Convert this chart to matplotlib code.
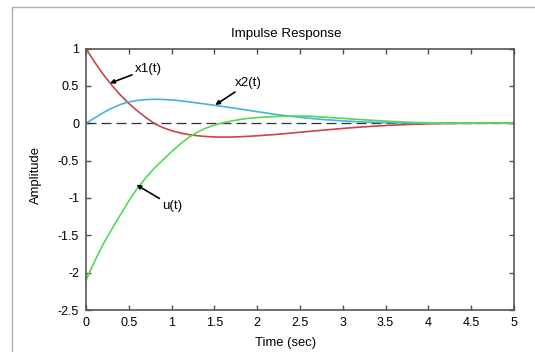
import matplotlib.pyplot as plt
from matplotlib.patches import Rectangle

plt.rcParams['font.family'] = ['Liberation Sans', 'DejaVu Sans']

# values (time in sec)
t = [0.0, 0.1, 0.2, 0.3, 0.4, 0.5, 0.6, 0.7, 0.8, 0.9, 1.0,
     1.1, 1.2, 1.3, 1.4, 1.5, 1.6, 1.7, 1.8, 1.9, 2.0,
     2.2, 2.4, 2.6, 2.8, 3.0, 3.2, 3.4, 3.6, 3.8, 4.0,
     4.2, 4.4, 4.6, 4.8, 5.0]
x1 = [1.0, 0.82, 0.655, 0.51, 0.38, 0.265, 0.165, 0.075, -0.005, -0.06, -0.10,
      -0.13, -0.152, -0.167, -0.178, -0.184, -0.186, -0.185, -0.181, -0.175, -0.168,
      -0.152, -0.132, -0.11, -0.09, -0.07, -0.052, -0.037, -0.025, -0.015, -0.008,
      -0.004, -0.001, 0.0, 0.0, 0.0]
x2 = [0.0, 0.07, 0.14, 0.20, 0.25, 0.285, 0.305, 0.316, 0.32, 0.318, 0.312,
      0.30, 0.286, 0.271, 0.256, 0.24, 0.224, 0.207, 0.19, 0.172, 0.155,
      0.12, 0.092, 0.067, 0.047, 0.031, 0.019, 0.011, 0.005, 0.002, 0.0,
      0.0, 0.0, 0.0, 0.0, 0.0]
u = [-2.1, -1.85, -1.62, -1.42, -1.23, -1.04, -0.87, -0.73, -0.60, -0.49, -0.38,
     -0.28, -0.19, -0.12, -0.065, -0.025, 0.005, 0.03, 0.05, 0.065, 0.075,
     0.09, 0.097, 0.095, 0.08, 0.065, 0.05, 0.035, 0.022, 0.012, 0.006,
     0.002, 0.0, 0.0, 0.0, 0.0]

xticks = [0, 0.5, 1, 1.5, 2, 2.5, 3, 3.5, 4, 4.5, 5]
xticklabels = ['0', '0.5', '1', '1.5', '2', '2.5', '3', '3.5', '4', '4.5', '5']
yticks = [1, 0.5, 0, -0.5, -1, -1.5, -2, -2.5]
yticklabels = ['1', '0.5', '0', '-0.5', '-1', '-1.5', '-2', '-2.5']

fig = plt.figure(figsize=(5.35, 3.52), dpi=100)
# grey frame of the exported window (only top and left edges visible)
fig.patches.append(Rectangle((12/535, -0.1), 1.2, 1 - 7/352 + 0.1, transform=fig.transFigure,
                             fill=False, edgecolor='#b0b0b0', linewidth=1.0))
ax = fig.add_axes([86/535, 1 - 310/352, 428/535, 261.5/352])

ax.plot([0, 5], [0, 0], color='#303030', linestyle=(0, (8, 4)), linewidth=0.9)
ax.plot(t, x1, color='#cc4444', linewidth=1.2)
ax.plot(t, x2, color='#44b4dc', linewidth=1.2)
ax.plot(t, u, color='#55d855', linewidth=1.2)

arw = dict(arrowstyle='-|>', color='black', lw=1.2, mutation_scale=6, shrinkA=0, shrinkB=0)
ax.annotate('x1(t)', xy=(0.28, 0.535), xytext=(0.57, 0.73), fontsize=9.6,
            va='center', ha='left', arrowprops=arw)
ax.annotate('x2(t)', xy=(1.51, 0.245), xytext=(1.74, 0.535), fontsize=9.6,
            va='center', ha='left', arrowprops=arw)
ax.annotate('u(t)', xy=(0.59, -0.825), xytext=(0.89, -1.11), fontsize=9.6,
            va='center', ha='left', arrowprops=arw)

ax.set_xlim(0, 5)
ax.set_ylim(-2.5, 1)
ax.set_xticks(xticks)
ax.set_xticklabels(xticklabels)
ax.set_yticks(yticks)
ax.set_yticklabels(yticklabels)
ax.tick_params(direction='in', top=True, right=True, length=3.5, width=1,
               color='#505050', labelsize=9, pad=5)
for s in ax.spines.values():
    s.set_color('#555555')
    s.set_linewidth(1.2)

ax.set_title('Impulse Response', fontsize=9.6, x=0.467, y=1.0555, va='center', pad=0)
ax.set_xlabel('Time (sec)', fontsize=9.4)
ax.xaxis.set_label_coords(0.467, -0.105)
ax.set_ylabel('Amplitude', fontsize=9.4)
ax.yaxis.set_label_coords(-0.104, 0.516)

fig.savefig('out.png', dpi=100)
